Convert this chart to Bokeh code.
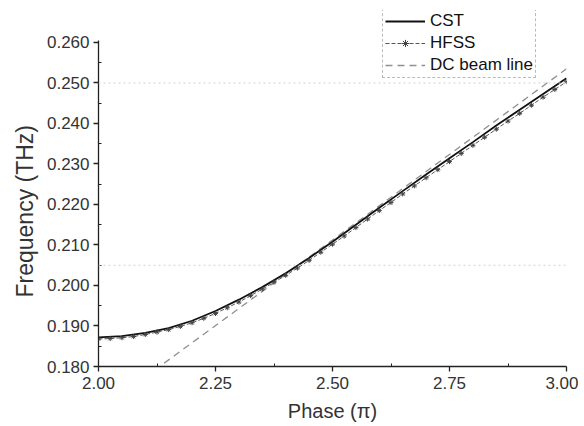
from bokeh.plotting import figure
from bokeh.models import Range1d, Legend, LegendItem, Span, FixedTicker, Title
from bokeh.embed import file_html
from bokeh.resources import INLINE

# ---- data ----
cst_phase = [2.00, 2.05, 2.10, 2.15, 2.20, 2.25, 2.30, 2.35, 2.40, 2.45, 2.50,
             2.55, 2.60, 2.65, 2.70, 2.75, 2.80, 2.85, 2.90, 2.95, 3.00]
cst_freq = [0.1872, 0.1875, 0.1883, 0.1895, 0.1913, 0.1937, 0.1965, 0.1996, 0.2030, 0.2068, 0.2108,
            0.2150, 0.2192, 0.2233, 0.2274, 0.2314, 0.2354, 0.2395, 0.2434, 0.2473, 0.2512]

hfss_phase = [2.000, 2.025, 2.050, 2.075, 2.100, 2.125, 2.150, 2.175, 2.200, 2.225,
              2.250, 2.275, 2.300, 2.325, 2.350, 2.375, 2.400, 2.425, 2.450, 2.475,
              2.500, 2.525, 2.550, 2.575, 2.600, 2.625, 2.650, 2.675, 2.700, 2.725,
              2.750, 2.775, 2.800, 2.825, 2.850, 2.875, 2.900, 2.925, 2.950, 2.975, 3.000]
hfss_freq = [0.1868, 0.1869, 0.1871, 0.1874, 0.1879, 0.1885, 0.1891, 0.1899, 0.1908, 0.1919,
             0.1931, 0.1945, 0.1959, 0.1975, 0.1991, 0.2008, 0.2025, 0.2043, 0.2062, 0.2082,
             0.2102, 0.2122, 0.2143, 0.2164, 0.2185, 0.2205, 0.2226, 0.2246, 0.2266, 0.2286,
             0.2306, 0.2326, 0.2346, 0.2366, 0.2386, 0.2406, 0.2425, 0.2445, 0.2465, 0.2484, 0.2503]

dc_phase = [2.14, 3.00]
dc_freq = [0.1808, 0.2535]

x_ticks = [2.00, 2.25, 2.50, 2.75, 3.00]
y_ticks = [0.180, 0.190, 0.200, 0.210, 0.220, 0.230, 0.240, 0.250, 0.260]
faint_levels = [0.250, 0.205]

FONT = "Liberation Sans"

p = figure(frame_width=468, frame_height=356, output_backend="svg", toolbar_location=None,
           x_range=Range1d(2.0, 3.0), y_range=Range1d(0.180, 0.2679),
           min_border_left=98, min_border_right=12, min_border_top=10, min_border_bottom=10)
p.outline_line_color = None
p.xgrid.visible = False
p.ygrid.visible = False
p.background_fill_color = "white"

for lv in faint_levels:
    p.add_layout(Span(location=lv, dimension="width", line_color="#d2d2d2",
                      line_width=1, line_dash="2 3"))

r_dc = p.line(dc_phase, dc_freq, line_color="#8f8f8f", line_width=1.3, line_dash="7 5")
r_cst = p.line(cst_phase, cst_freq, line_color="#111111", line_width=1.8)
r_hl = p.line(hfss_phase, hfss_freq, line_color="#555555", line_width=1.0, line_dash="4 2")
r_hm = p.scatter(hfss_phase, hfss_freq, marker="asterisk", size=5, line_color="#444444", line_width=1)

for ax in (p.xaxis[0], p.yaxis[0]):
    ax.axis_line_color = "#222222"
    ax.axis_line_width = 1.3
    ax.major_tick_line_color = "#222222"
    ax.major_tick_line_width = 1.3
    ax.minor_tick_line_color = "#222222"
    ax.major_tick_out = 5
    ax.major_tick_in = 0
    ax.minor_tick_out = 0
    ax.minor_tick_in = 3
    ax.major_label_text_font = FONT
    ax.major_label_text_font_size = "17px"
    ax.major_label_text_color = "#333333"
    ax.axis_label_text_font = FONT
    ax.axis_label_text_font_style = "normal"
    ax.axis_label_text_color = "#333333"

p.xaxis[0].axis_label_text_font_size = "20px"
p.yaxis[0].bounds = (0.180, 0.2606)
p.xaxis[0].ticker = FixedTicker(ticks=x_ticks, minor_ticks=[2.125, 2.375, 2.625, 2.875])
p.yaxis[0].ticker = FixedTicker(ticks=y_ticks, minor_ticks=[y + 0.005 for y in y_ticks[:-1]])
p.xaxis[0].major_label_overrides = {t: f"{t:.2f}" for t in x_ticks}
p.yaxis[0].major_label_overrides = {t: f"{t:.3f}" for t in y_ticks}
p.xaxis[0].axis_label = "Phase (π)"
p.xaxis[0].axis_label_standoff = 8
p.xaxis[0].major_label_standoff = 5
p.yaxis[0].major_label_standoff = 4

ylab = Title(text="Frequency (THz)", align="left", offset=69, standoff=12,
             text_font=FONT, text_font_size="23px", text_font_style="normal",
             text_color="#333333")
p.add_layout(ylab, "left")

legend = Legend(items=[LegendItem(label="CST", renderers=[r_cst]),
                       LegendItem(label="HFSS", renderers=[r_hl, r_hm]),
                       LegendItem(label="DC beam line", renderers=[r_dc])],
                location=(284, 288))
legend.label_text_font = FONT
legend.label_text_font_size = "17px"
legend.label_text_color = "#111111"
legend.glyph_width = 40
legend.glyph_height = 18
legend.label_height = 18
legend.label_standoff = 5
legend.spacing = 2
legend.padding = 2
legend.margin = 0
legend.border_line_color = "#777777"
legend.border_line_dash = "2 2"
legend.border_line_width = 1
legend.background_fill_alpha = 1
p.add_layout(legend)

open("out.html", "w").write(file_html(p, INLINE))
